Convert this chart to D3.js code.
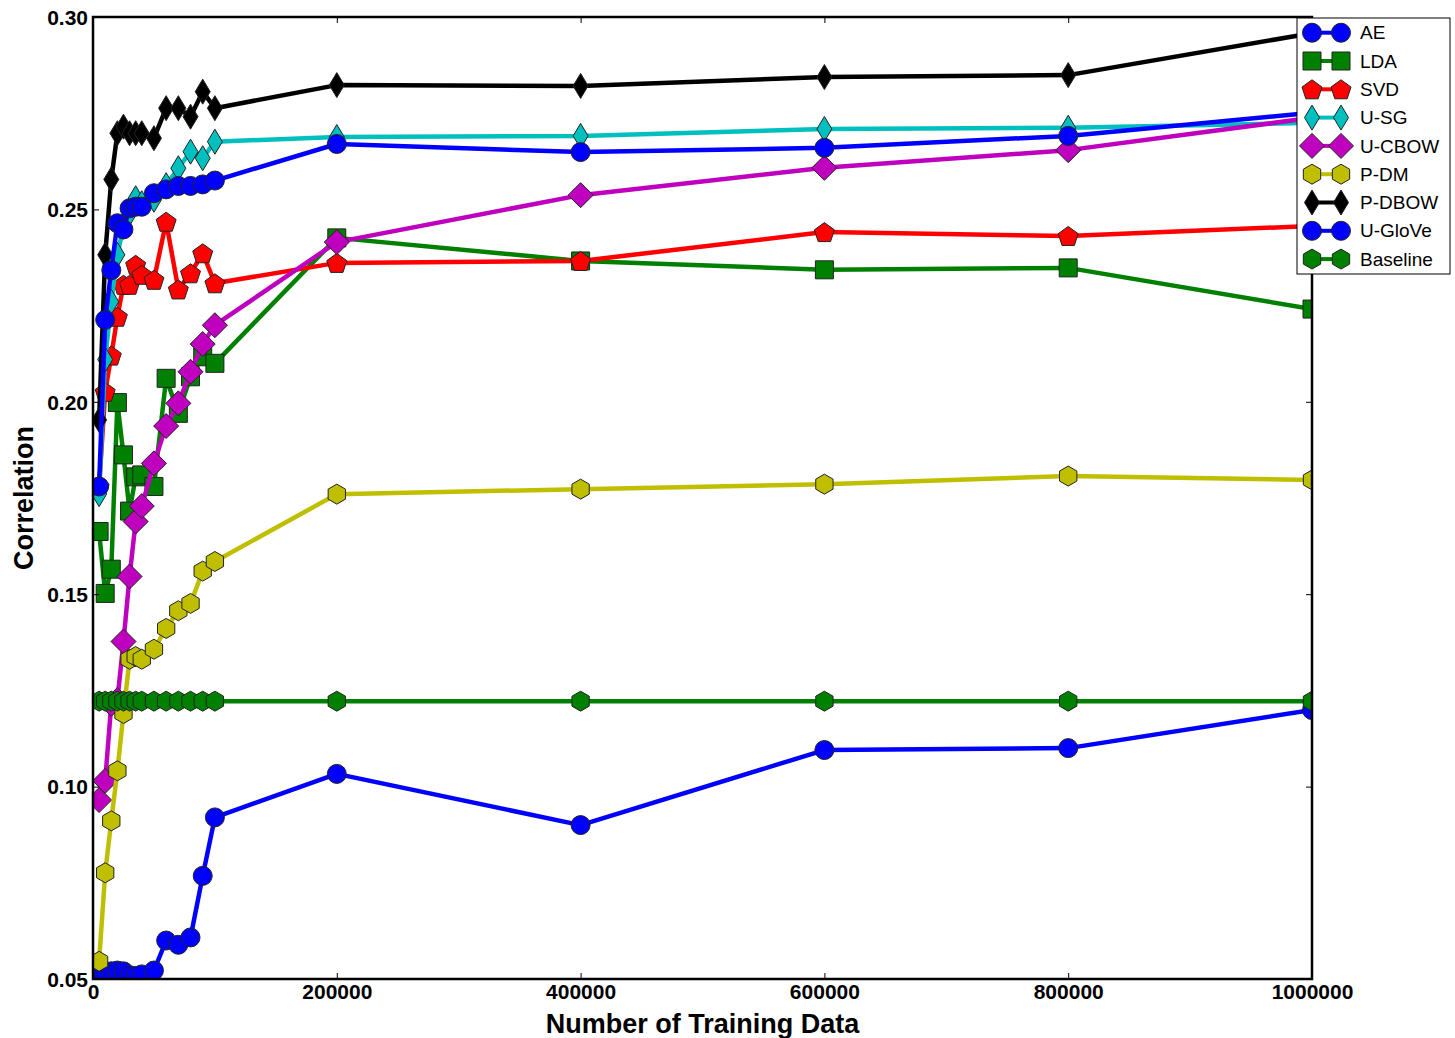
<!DOCTYPE html>
<html>
<head>
<meta charset="utf-8">
<script src="https://cdn.jsdelivr.net/npm/d3@7"></script>
<style>
body { margin: 0; background: #fff; }
svg { font-family: "Liberation Sans", Arial, sans-serif; }
</style>
</head>
<body>
<div id="chart"></div>
<script>

var trainingSize = [5000,10000,15000,20000,25000,30000,35000,40000,50000,60000,70000,80000,90000,100000,200000,400000,600000,800000,1000000];

var ae      = [0.0505,0.0515,0.052,0.0522,0.052,0.051,0.0508,0.0512,0.0522,0.060,0.0589,0.0608,0.0768,0.092,0.1033,0.090,0.1095,0.110,0.1199];
var lda     = [0.1663,0.1502,0.1565,0.1998,0.1862,0.1716,0.1805,0.181,0.178,0.2061,0.197,0.2065,0.2117,0.210,0.2426,0.2366,0.2343,0.2348,0.2241];
var svd     = [0.178,0.2026,0.212,0.2221,0.2304,0.2304,0.2356,0.233,0.2317,0.2468,0.2292,0.2334,0.2386,0.2308,0.2361,0.2366,0.2441,0.2431,0.2457];
var usg     = [0.176,0.211,0.226,0.2382,0.2455,0.249,0.2529,0.2516,0.2525,0.2563,0.2607,0.265,0.2633,0.2676,0.2688,0.2691,0.2709,0.2712,0.2725];
var ucbow   = [0.0965,0.1015,0.1215,0.1225,0.1377,0.1546,0.1689,0.1729,0.184,0.1937,0.1996,0.2078,0.215,0.2199,0.2415,0.2537,0.2608,0.2654,0.2738];
var pdm     = [0.0546,0.0776,0.0911,0.1041,0.119,0.1331,0.1338,0.1331,0.1357,0.1411,0.1457,0.1476,0.156,0.1585,0.176,0.1773,0.1786,0.1807,0.1797];
var pdbow   = [0.1953,0.2382,0.2578,0.2698,0.2715,0.2698,0.2698,0.2698,0.2685,0.2763,0.2763,0.2741,0.2806,0.2763,0.2823,0.2821,0.2844,0.2849,0.2958];
var uglove  = [0.178,0.2213,0.2342,0.2464,0.2448,0.2503,0.2507,0.2507,0.2542,0.2552,0.2561,0.2561,0.2565,0.2575,0.267,0.2649,0.266,0.2691,0.2751];
var baseline= [0.1222,0.1222,0.1222,0.1222,0.1222,0.1222,0.1222,0.1222,0.1222,0.1222,0.1222,0.1222,0.1222,0.1222,0.1222,0.1222,0.1222,0.1222,0.1222];

var seriesNames = ["AE","LDA","SVD","U-SG","U-CBOW","P-DM","P-DBOW","U-GloVe","Baseline"];
var seriesValues = [ae,lda,svd,usg,ucbow,pdm,pdbow,uglove,baseline];
var seriesColors = ["#0000ff","#008000","#ff0000","#00bfbf","#bf00bf","#bfbf00","#000000","#0000ff","#008000"];
var seriesMarkers = ["circle","square","pentagon","thindiamond","diamond","hexagon","thindiamond","circle","hexagon"];

var xTicks = [0,200000,400000,600000,800000,1000000];
var yTicks = [0.05,0.10,0.15,0.20,0.25,0.30];

var W = 1455, H = 1038;
var plotLeft = 93, plotTop = 17, pw = 1219, ph = 962;

// marker outlines, centered on 0,0
function markerPath(type){
	var pts = [];
	if(type=="circle"){
		var r = 9.5;
		return "M"+r+",0A"+r+","+r+" 0 1,1 "+(-r)+",0A"+r+","+r+" 0 1,1 "+r+",0Z";
	}
	if(type=="square"){
		pts = [[-9,-9],[9,-9],[9,9],[-9,9]];
	}
	if(type=="pentagon"){
		for(var i=0;i<5;i++){
			var a = -Math.PI/2 + i*2*Math.PI/5;
			pts.push([10.5*Math.cos(a),10.5*Math.sin(a)+1]);
		}
	}
	if(type=="hexagon"){
		for(var i=0;i<6;i++){
			var a = -Math.PI/2 + i*Math.PI/3;
			pts.push([10*Math.cos(a),10*Math.sin(a)]);
		}
	}
	if(type=="thindiamond"){
		pts = [[0,-12.5],[7.5,0],[0,12.5],[-7.5,0]];
	}
	if(type=="diamond"){
		pts = [[0,-12.5],[12.5,0],[0,12.5],[-12.5,0]];
	}
	return "M"+pts.map(function(p){return p[0].toFixed(2)+","+p[1].toFixed(2);}).join("L")+"Z";
}

var svg = d3.select("#chart").append("svg")
	.attr("width",W)
	.attr("height",H);

var x = d3.scaleLinear().domain([0,1000000]).range([0,pw]);
var y = d3.scaleLinear().domain([0.05,0.30]).range([ph,0]);

var g = svg.append("g").attr("transform","translate("+plotLeft+","+plotTop+")");

g.append("clipPath").attr("id","plotClip")
	.append("rect")
	.attr("width",pw)
	.attr("height",ph);

var plot = g.append("g").attr("clip-path","url(#plotClip)");

var line = d3.line()
	.x(function(d,i){return x(trainingSize[i]);})
	.y(function(d){return y(d);});

seriesValues.forEach(function(vals,k){
	var sg = plot.append("g");
	sg.append("path")
		.attr("d",line(vals))
		.attr("fill","none")
		.attr("stroke",seriesColors[k])
		.attr("stroke-width",4.5)
		.attr("stroke-linejoin","round");
	sg.selectAll("path.mark")
		.data(vals)
		.enter()
		.append("path")
		.attr("class","mark")
		.attr("d",markerPath(seriesMarkers[k]))
		.attr("transform",function(d,i){return "translate("+x(trainingSize[i])+","+y(d)+")";})
		.attr("fill",seriesColors[k])
		.attr("stroke","#222")
		.attr("stroke-width",1);
});

// axes, ticks pointing in
var xAxis = g.append("g")
	.attr("transform","translate(0,"+ph+")")
	.call(d3.axisBottom(x).tickValues(xTicks).tickSize(-6).tickPadding(4).tickFormat(d3.format("d")));
var xTop = g.append("g")
	.call(d3.axisTop(x).tickValues(xTicks).tickSize(-6).tickFormat(""));
var yAxis = g.append("g")
	.call(d3.axisLeft(y).tickValues(yTicks).tickSize(-6).tickPadding(5).tickFormat(d3.format(".2f")));
var yRight = g.append("g")
	.attr("transform","translate("+pw+",0)")
	.call(d3.axisRight(y).tickValues(yTicks).tickSize(-6).tickFormat(""));

[xAxis,xTop,yAxis,yRight].forEach(function(a){
	a.select(".domain").remove();
	a.selectAll(".tick line").attr("stroke","#000").attr("stroke-width",1);
});

xAxis.selectAll(".tick text")
	.style("font-size","21px")
	.style("font-weight","bold")
	.attr("fill","#000")
	.attr("dy","0.75em");
yAxis.selectAll(".tick text")
	.style("font-size","21px")
	.style("font-weight","bold")
	.attr("fill","#000")
	.attr("dy","0.35em");

g.append("rect")
	.attr("width",pw)
	.attr("height",ph)
	.attr("fill","none")
	.attr("stroke","#000")
	.attr("stroke-width",2.5);

svg.append("text")
	.attr("x",plotLeft+pw/2)
	.attr("y",1033)
	.attr("text-anchor","middle")
	.style("font-size","27px")
	.style("font-weight","bold")
	.text("Number of Training Data");

svg.append("text")
	.attr("transform","translate(33,"+(plotTop+ph/2)+") rotate(-90)")
	.attr("text-anchor","middle")
	.style("font-size","27px")
	.style("font-weight","bold")
	.text("Correlation");

// legend
var legend = svg.append("g").attr("transform","translate(1297,18)");
legend.append("rect")
	.attr("width",153)
	.attr("height",256)
	.attr("fill","#fff")
	.attr("stroke","#000")
	.attr("stroke-width",1);

seriesNames.forEach(function(name,k){
	var ly = 14.7 + k*28.3;
	var row = legend.append("g").attr("transform","translate(0,"+ly+")");
	row.append("line")
		.attr("x1",15).attr("x2",44)
		.attr("stroke",seriesColors[k])
		.attr("stroke-width",4);
	[15,44].forEach(function(mx){
		row.append("path")
			.attr("d",markerPath(seriesMarkers[k]))
			.attr("transform","translate("+mx+",0)")
			.attr("fill",seriesColors[k])
			.attr("stroke","#222")
			.attr("stroke-width",1);
	});
	row.append("text")
		.attr("x",63)
		.attr("dy","0.35em")
		.style("font-size","19px")
		.text(name);
});

</script>
</body>
</html>
